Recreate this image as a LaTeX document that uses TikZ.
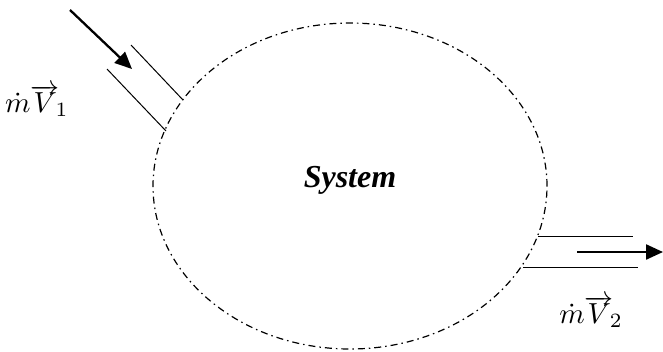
\documentclass[tikz,border=0pt]{standalone}
\usepackage{graphicx}
\usepackage{fontspec}
\newfontfamily\timesf{Liberation Serif}
\usetikzlibrary{shapes.geometric,arrows.meta}
\begin{document}
\begin{tikzpicture}[x=1pt,y=-1pt,
  boundary/.style={draw,ellipse,line width=1.2pt,dash pattern=on 7pt off 4pt on 1.5pt off 4pt,inner sep=0pt},
  pipe/.style={line width=1pt},
  flow/.style={line width=2.3pt,-{Triangle[length=17pt,width=15pt]}},
  mathlbl/.style={anchor=base,inner sep=0pt}]
\useasboundingbox (0,0) rectangle (663,351);
\node[boundary,minimum width=394pt,minimum height=326pt] (sys) at (350,186) {};
\node[inner sep=0pt,font=\timesf\bfseries\itshape\fontsize{32}{38}\selectfont] (syslbl) at (350,180) {System};
% inlet pipe
\coordinate (i1a) at (131,45);
\coordinate (i1b) at (183,100);
\coordinate (i2a) at (107,69);
\coordinate (i2b) at (166,131);
\draw[pipe] (i1a) -- (i1b);
\draw[pipe] (i2a) -- (i2b);
\coordinate (a1s) at (70,10);
\coordinate (a1e) at (132,69);
\draw[flow] (a1s) -- (a1e);
% outlet pipe
\coordinate (o1a) at (538,236);
\coordinate (o1b) at (633,236);
\coordinate (o2a) at (523,267);
\coordinate (o2b) at (638,267);
\draw[pipe] (o1a) -- (o1b);
\draw[pipe] (o2a) -- (o2b);
\coordinate (a2s) at (577,252);
\coordinate (a2e) at (663,252);
\draw[flow] (a2s) -- (a2e);
% labels
\node[mathlbl] (l1) at (37,112) {\scalebox{2.9}{$\dot{m}\overrightarrow{V}_{\!1}$}};
\node[mathlbl] (l2) at (591,323) {\scalebox{2.9}{$\dot{m}\overrightarrow{V}_{\!2}$}};
\end{tikzpicture}
\end{document}
